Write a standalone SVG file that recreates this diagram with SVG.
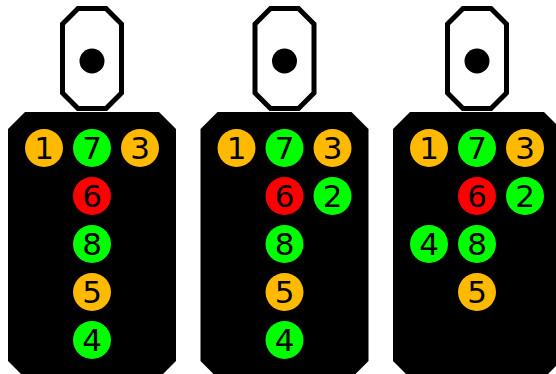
<svg xmlns="http://www.w3.org/2000/svg" width="556" height="374" viewBox="0 0 556 374">
<style>
.head{fill:#ffffff;stroke:#000000;stroke-width:5;stroke-linejoin:miter}
.body{fill:#000000}
.dot{fill:#000000}
.o{fill:#FFBA00}
.g{fill:#00FF00}
.r{fill:#FF0000}
.t{font-family:"DejaVu Sans",Verdana,sans-serif;font-size:31px;fill:#000000;text-anchor:middle}
</style>
<defs>
<g id="sig">
<path class="body" d="M-67,112 L67,112 L84,129 L84,361 L67,378 L-67,378 L-84,361 L-84,129 Z"/>
<path class="head" d="M-14,8.5 L14,8.5 L29.5,24 L29.5,93 L14,108.5 L-14,108.5 L-29.5,93 L-29.5,24 Z"/>
<circle class="dot" cx="0" cy="61" r="12.5"/>
</g>
</defs>
<g id="signal1">
<use href="#sig" transform="translate(92,0)"/>
<g id="s1-l1"><circle class="o" cx="44" cy="148" r="19"/><text class="t" x="44" y="159.3">1</text></g>
<g id="s1-l7"><circle class="g" cx="92" cy="148" r="19"/><text class="t" x="92" y="159.3">7</text></g>
<g id="s1-l3"><circle class="o" cx="140" cy="148" r="19"/><text class="t" x="140" y="159.3">3</text></g>
<g id="s1-l6"><circle class="r" cx="92" cy="196" r="19"/><text class="t" x="92" y="207.3">6</text></g>
<g id="s1-l8"><circle class="g" cx="92" cy="244" r="19"/><text class="t" x="92" y="255.3">8</text></g>
<g id="s1-l5"><circle class="o" cx="92" cy="292" r="19"/><text class="t" x="92" y="303.3">5</text></g>
<g id="s1-l4"><circle class="g" cx="92" cy="340" r="19"/><text class="t" x="92" y="351.3">4</text></g>
</g>
<g id="signal2">
<use href="#sig" transform="translate(284.5,0)"/>
<g id="s2-l1"><circle class="o" cx="236.5" cy="148" r="19"/><text class="t" x="236.5" y="159.3">1</text></g>
<g id="s2-l7"><circle class="g" cx="284.5" cy="148" r="19"/><text class="t" x="284.5" y="159.3">7</text></g>
<g id="s2-l3"><circle class="o" cx="332.5" cy="148" r="19"/><text class="t" x="332.5" y="159.3">3</text></g>
<g id="s2-l6"><circle class="r" cx="284.5" cy="196" r="19"/><text class="t" x="284.5" y="207.3">6</text></g>
<g id="s2-l2"><circle class="g" cx="332.5" cy="196" r="19"/><text class="t" x="332.5" y="207.3">2</text></g>
<g id="s2-l8"><circle class="g" cx="284.5" cy="244" r="19"/><text class="t" x="284.5" y="255.3">8</text></g>
<g id="s2-l5"><circle class="o" cx="284.5" cy="292" r="19"/><text class="t" x="284.5" y="303.3">5</text></g>
<g id="s2-l4"><circle class="g" cx="284.5" cy="340" r="19"/><text class="t" x="284.5" y="351.3">4</text></g>
</g>
<g id="signal3">
<use href="#sig" transform="translate(477,0)"/>
<g id="s3-l1"><circle class="o" cx="429" cy="148" r="19"/><text class="t" x="429" y="159.3">1</text></g>
<g id="s3-l7"><circle class="g" cx="477" cy="148" r="19"/><text class="t" x="477" y="159.3">7</text></g>
<g id="s3-l3"><circle class="o" cx="525" cy="148" r="19"/><text class="t" x="525" y="159.3">3</text></g>
<g id="s3-l6"><circle class="r" cx="477" cy="196" r="19"/><text class="t" x="477" y="207.3">6</text></g>
<g id="s3-l2"><circle class="g" cx="525" cy="196" r="19"/><text class="t" x="525" y="207.3">2</text></g>
<g id="s3-l4"><circle class="g" cx="429" cy="244" r="19"/><text class="t" x="429" y="255.3">4</text></g>
<g id="s3-l8"><circle class="g" cx="477" cy="244" r="19"/><text class="t" x="477" y="255.3">8</text></g>
<g id="s3-l5"><circle class="o" cx="477" cy="292" r="19"/><text class="t" x="477" y="303.3">5</text></g>
</g>
<g id="connectors"></g>
</svg>
